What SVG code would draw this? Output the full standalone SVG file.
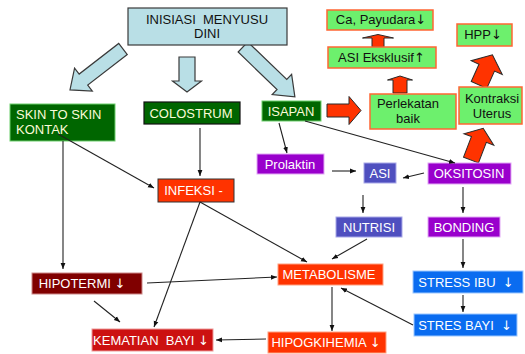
<svg xmlns="http://www.w3.org/2000/svg" width="525" height="354" viewBox="0 0 525 354">
<style>
text{font-family:"Liberation Sans",Arial,sans-serif;font-size:13px;text-anchor:middle}
.pre{white-space:pre}
.ar{font-family:"DejaVu Sans",sans-serif;font-size:13px;font-weight:normal}
.w{fill:#ffffff}
.c{fill:#fbfbd8}
.k{fill:#111}
.blue{fill:#b9dfe6;stroke:#3a3a3a;stroke-width:1.2}
.red{fill:#ff3300;stroke:#2a2a2a;stroke-width:1}
.gr{fill:#006600;stroke:#6ccf6c;stroke-width:1}
.lg{fill:#6df06d;stroke:#ff6633;stroke-width:1.5}
.pu{fill:#9900cc;stroke:#e2a8f5;stroke-width:1}
.sl{fill:#4f4fbf;stroke:#a8a8e8;stroke-width:1}
.bl{fill:#0a6cf0;stroke:#9cc8ff;stroke-width:1}
.or{fill:#ff3300;stroke:#ffa080;stroke-width:1}
#conn path{fill:none;stroke:#222;stroke-width:1.1;marker-end:url(#ah)}
</style>
<defs>
<marker id="ah" viewBox="0 0 10 10" refX="10" refY="5" markerWidth="6" markerHeight="6" markerUnits="userSpaceOnUse" orient="auto">
<path d="M0,1 L10,5 L0,9 z" fill="#111"/>
</marker>
</defs>
<rect width="525" height="354" fill="#fff"/>

<g id="blockarrows">
<path class="blue" transform="translate(123,49) rotate(142.3)" d="M0,-7 L50,-7 L50,-14.5 L67,0 L50,14.5 L50,7 L0,7 Z"/>
<path class="blue" transform="translate(187,57) rotate(90)" d="M0,-8 L24,-8 L24,-14.5 L35,0 L24,14.5 L24,8 L0,8 Z"/>
<path class="blue" transform="translate(243,47) rotate(43.9)" d="M0,-7 L54,-7 L54,-14 L72,0 L54,14 L54,7 L0,7 Z"/>
<path class="red" transform="translate(327,110.5)" d="M0,-6.5 L22,-6.5 L22,-14 L34,0 L22,14 L22,6.5 L0,6.5 Z"/>
<path class="red" transform="translate(479,85) rotate(-66)" d="M0,-8.5 L19,-8.5 L19,-17 L33,0 L19,17 L19,8.5 L0,8.5 Z"/>
<path class="red" transform="translate(471,160) rotate(-69)" d="M0,-8 L22,-8 L22,-16 L34,0 L22,16 L22,8 L0,8 Z"/>
<path class="red" transform="translate(378,47) rotate(-90)" d="M0,-6 L9,-6 L9,-15.5 L12.5,0 L9,15.5 L9,6 L0,6 Z"/>
<path class="red" transform="translate(400,93) rotate(-90)" d="M0,-7 L13,-7 L13,-12.5 L17,0 L13,12.5 L13,7 L0,7 Z"/>
</g>

<g id="n-imd"><rect class="blue" x="128" y="8" width="159" height="37"/><text class="k pre" x="207" y="23.5">INISIASI  MENYUSU</text><text class="k" x="207" y="38">DINI</text></g>
<g id="n-skin"><rect class="gr" x="10" y="104" width="105" height="37"/><text class="c" x="16" y="119" style="text-anchor:start">SKIN TO SKIN</text><text class="c" x="16" y="134" style="text-anchor:start">KONTAK</text></g>
<g id="n-colostrum"><rect x="144" y="102" width="96" height="22" fill="#006600" stroke="#111" stroke-width="1.2"/><text class="c" x="191" y="117.5">COLOSTRUM</text></g>
<g id="n-isapan"><rect class="gr" x="262" y="101" width="59" height="20"/><text class="c" x="291" y="116">ISAPAN</text></g>
<g id="n-perlekatan"><rect class="lg" x="370" y="94" width="86" height="35"/><text class="k" x="408" y="108">Perlekatan</text><text class="k" x="408" y="123">baik</text></g>
<g id="n-asiek"><rect class="lg" x="328" y="47" width="108" height="21"/><text class="k" x="381.5" y="62">ASI Eksklusif<tspan class="ar">↑</tspan></text></g>
<g id="n-ca"><rect class="lg" x="327" y="10" width="106" height="20"/><text class="k" x="381" y="24">Ca, Payudara<tspan class="ar">↓</tspan></text></g>
<g id="n-hpp"><rect class="lg" x="457" y="24" width="55" height="22"/><text class="k" x="483" y="39">HPP<tspan class="ar">↓</tspan></text></g>
<g id="n-kontraksi"><rect class="lg" x="459" y="87" width="63" height="37"/><text class="k" x="492" y="103">Kontraksi</text><text class="k" x="492" y="118">Uterus</text></g>
<g id="n-prolaktin"><rect class="pu" x="257" y="154" width="67" height="20"/><text class="w" x="290" y="168.5">Prolaktin</text></g>
<g id="n-asi"><rect class="sl" x="364" y="163" width="32" height="20"/><text class="w" x="380" y="177.5">ASI</text></g>
<g id="n-oksitosin"><rect class="pu" x="428" y="163" width="83" height="21"/><text class="w" x="469" y="178">OKSITOSIN</text></g>
<g id="n-nutrisi"><rect class="sl" x="336" y="217" width="66" height="20"/><text class="w" x="369" y="231.5">NUTRISI</text></g>
<g id="n-bonding"><rect class="pu" x="428" y="217" width="72" height="20"/><text class="w" x="464" y="231.5">BONDING</text></g>
<g id="n-infeksi"><rect x="158" y="179" width="76" height="23" fill="#ff3300" stroke="#333" stroke-width="1"/><text class="w" x="193.5" y="195">INFEKSI -</text></g>
<g id="n-metabolisme"><rect class="or" x="278" y="264" width="105" height="21"/><text class="w" x="329" y="279">METABOLISME</text></g>
<g id="n-stressibu"><rect class="bl" x="413" y="271" width="110" height="22"/><text class="w pre" x="466" y="286.5">STRESS IBU  <tspan class="ar">↓</tspan></text></g>
<g id="n-stresbayi"><rect class="bl" x="414" y="314" width="103" height="22"/><text class="w pre" x="465" y="329.5">STRES BAYI  <tspan class="ar">↓</tspan></text></g>
<g id="n-hipogkihemia"><rect class="or" x="268" y="332" width="118" height="21"/><text class="w" x="326" y="347">HIPOGKIHEMIA <tspan class="ar">↓</tspan></text></g>
<g id="n-hipotermi"><rect x="32" y="273" width="110" height="21" fill="#800000" stroke="#c88" stroke-width="1"/><text class="w" x="82" y="288">HIPOTERMI <tspan class="ar">↓</tspan></text></g>
<g id="n-kematian"><rect x="92" y="329" width="121" height="22" fill="#cc1111" stroke="#e99" stroke-width="1"/><text class="w pre" x="151" y="344.5">KEMATIAN  BAYI <tspan class="ar">↓</tspan></text></g>

<g id="conn">
<path d="M63,141 L63,269"/>
<path d="M58,134 L154,188"/>
<path d="M200,128 L200,176"/>
<path d="M279,123 L287,153"/>
<path d="M305,121 L455,163"/>
<path d="M332,171 L356,171"/>
<path d="M424,173 L403,178"/>
<path d="M363,195 L363,213"/>
<path d="M463,187 L463,213"/>
<path d="M367,239 L332,259"/>
<path d="M200,202 L307,262"/>
<path d="M200,202 L154,327"/>
<path d="M147,283 L277,277"/>
<path d="M94,301 L120,322"/>
<path d="M463,239 L463,268"/>
<path d="M463,295 L463,312"/>
<path d="M413,325 L341,288"/>
<path d="M332,287 L332,331"/>
<path d="M266,339 L216,340"/>
</g>
</svg>
